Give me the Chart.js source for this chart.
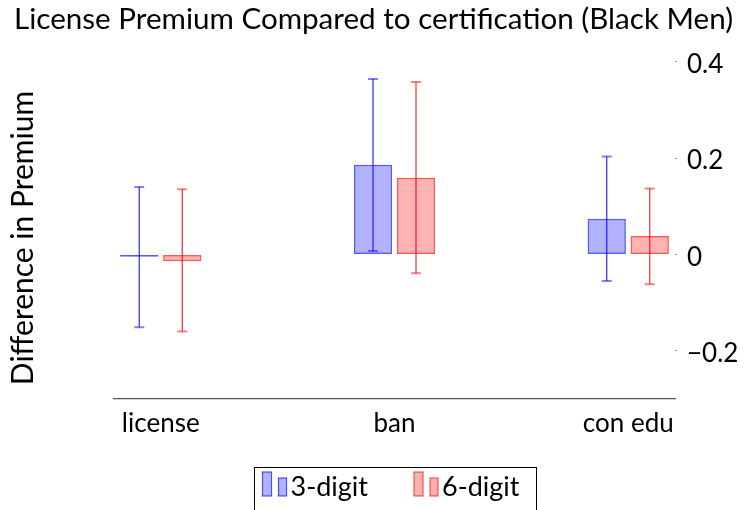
<!DOCTYPE html>
<html>
<head>
<meta charset="utf-8">
<script src="https://cdn.jsdelivr.net/npm/chart.js@4"></script>
<style>
  body { margin: 0; background: #fff; }
  #wrap { width: 747px; height: 510px; }
</style>
</head>
<body>
<div id="wrap"><canvas id="myChart"></canvas></div>
<script>
// categories + values
const categories = ['license', 'ban', 'con edu'];
const seriesNames = ['3-digit', '6-digit'];

const threeDigit = [-0.005, 0.186, 0.074];
const threeLow = [-0.151, 0.007, -0.055];
const threeHigh = [0.140, 0.364, 0.203];

const sixDigit = [-0.014, 0.159, 0.038];
const sixLow = [-0.160, -0.039, -0.062];
const sixHigh = [0.135, 0.358, 0.137];

const yTicks = [-0.2, 0, 0.2, 0.4];

const FONT = 'Lato';

// error bars, drawn on top of the bars
const errorBars = {
    id: 'errorBars',
    afterDatasetsDraw(chart) {
        const ctx = chart.ctx;
        const y = chart.scales.y;
        chart.data.datasets.forEach((ds, i) => {
            const meta = chart.getDatasetMeta(i);
            meta.data.forEach((bar, j) => {
                const top = y.getPixelForValue(ds.errHigh[j]);
                const bot = y.getPixelForValue(ds.errLow[j]);
                ctx.save();
                ctx.strokeStyle = ds.errColor;
                ctx.lineWidth = 1.2;
                ctx.beginPath();
                ctx.moveTo(bar.x, top);
                ctx.lineTo(bar.x, bot);
                ctx.stroke();
                ctx.strokeStyle = ds.capColor;
                ctx.lineWidth = 2;
                ctx.beginPath();
                ctx.moveTo(bar.x - 5, top);
                ctx.lineTo(bar.x + 5, top);
                ctx.moveTo(bar.x - 5, bot);
                ctx.lineTo(bar.x + 5, bot);
                ctx.stroke();
                ctx.restore();
            });
        });
    }
};

// y title on the left + boxed legend at the bottom
const extras = {
    id: 'extras',
    afterDraw(chart) {
        const ctx = chart.ctx;
        const area = chart.chartArea;
        ctx.save();
        ctx.fillStyle = '#000';

        // y axis title
        ctx.save();
        ctx.font = '30px ' + FONT;
        ctx.translate(33, 238);
        ctx.rotate(-Math.PI / 2);
        ctx.textAlign = 'center';
        ctx.textBaseline = 'alphabetic';
        ctx.fillText('Difference in Premium', 0, 0);
        ctx.restore();

        // legend
        ctx.font = '27px ' + FONT;
        const items = chart.data.datasets.map(ds => ({
            text: ds.label, fill: ds.backgroundColor, stroke: ds.borderColor,
            w: ctx.measureText(ds.label).width
        }));
        const iconW = 9 + 7 + 8 + 4;
        const gap = 46;
        let total = 9 + 16;
        items.forEach((it, k) => { total += iconW + it.w + (k ? gap : 0); });
        let x = (area.left + area.right) / 2 - total / 2;
        ctx.strokeStyle = '#000';
        ctx.lineWidth = 1;
        ctx.strokeRect(Math.round(x) + 0.5, 467.5, Math.round(total), 60);
        x += 9;
        const base = 496;
        items.forEach((it, k) => {
            if (k) x += gap;
            ctx.fillStyle = it.fill;
            ctx.strokeStyle = it.stroke;
            ctx.lineWidth = 1.2;
            ctx.fillRect(x, base - 24, 9, 24);
            ctx.strokeRect(x, base - 24, 9, 24);
            ctx.fillRect(x + 16, base - 18, 8, 18);
            ctx.strokeRect(x + 16, base - 18, 8, 18);
            ctx.fillStyle = '#000';
            ctx.textAlign = 'left';
            ctx.fillText(it.text, x + iconW, base);
            x += iconW + it.w;
        });
        ctx.restore();
    }
};

const toPoints = arr => arr.map((v, i) => ({ x: i, y: v }));

const ctx = document.getElementById('myChart');

new Chart(ctx, {
    type: 'bar',
    data: {
        datasets: [{
            label: seriesNames[0],
            data: toPoints(threeDigit),
            xAxisID: 'x',
            yAxisID: 'y',
            errLow: threeLow,
            errHigh: threeHigh,
            backgroundColor: 'rgba(0, 0, 255, 0.3)',
            borderColor: 'rgba(0, 0, 255, 0.65)',
            errColor: 'rgba(0, 0, 255, 0.85)',
            capColor: 'rgba(0, 0, 255, 0.5)',
            borderWidth: 1.5,
            borderSkipped: false,
            categoryPercentage: 0.368,
            barPercentage: 0.89
        }, {
            label: seriesNames[1],
            data: toPoints(sixDigit),
            xAxisID: 'x',
            yAxisID: 'y',
            errLow: sixLow,
            errHigh: sixHigh,
            backgroundColor: 'rgba(255, 0, 0, 0.3)',
            borderColor: 'rgba(255, 0, 0, 0.65)',
            errColor: 'rgba(255, 0, 0, 0.85)',
            capColor: 'rgba(255, 0, 0, 0.5)',
            borderWidth: 1.5,
            borderSkipped: false,
            categoryPercentage: 0.368,
            barPercentage: 0.89
        }]
    },
    options: {
        responsive: true,
        maintainAspectRatio: false,
        animation: false,
        layout: { padding: 0 },
        plugins: {
            legend: { display: false },
            tooltip: { enabled: false },
            title: {
                display: true,
                text: 'License Premium Compared to certification (Black Men)',
                color: '#000',
                font: { family: FONT, size: 29.6, weight: 'normal', lineHeight: 1.1 },
                padding: { top: 3, bottom: 2 }
            }
        },
        scales: {
            x: {
                type: 'linear',
                position: 'bottom',
                offset: false,
                min: -0.2,
                max: 2.2,
                afterBuildTicks: s => { s.ticks = categories.map((c, i) => ({ value: i })); },
                afterFit: s => { s.height = 111; },
                grid: { display: false, drawTicks: false, offset: false },
                border: { display: true, color: '#555', width: 1.3 },
                ticks: {
                    color: '#000',
                    padding: 9,
                    font: { family: FONT, size: 26 },
                    callback: v => categories[v]
                }
            },
            // empty left axis, only keeps room for the title drawn by hand
            yLeft: {
                position: 'left',
                display: true,
                min: 0,
                max: 1,
                afterFit: s => { s.width = 114; },
                grid: { display: false },
                border: { display: false },
                ticks: { display: false }
            },
            y: {
                position: 'right',
                min: -0.3,
                max: 0.45,
                afterBuildTicks: s => { s.ticks = yTicks.map(v => ({ value: v })); },
                afterFit: s => { s.width = 72; },
                border: { display: false },
                grid: { drawOnChartArea: false, drawTicks: true, tickLength: 2, color: '#999' },
                ticks: {
                    color: '#000',
                    padding: 10,
                    labelOffset: 3,
                    font: { family: FONT, size: 26 },
                    callback: v => v === 0 ? '0' : (v < 0 ? '\u2212' : '') + Math.abs(v).toFixed(1)
                }
            }
        }
    },
    plugins: [errorBars, extras]
});
</script>
</body>
</html>
